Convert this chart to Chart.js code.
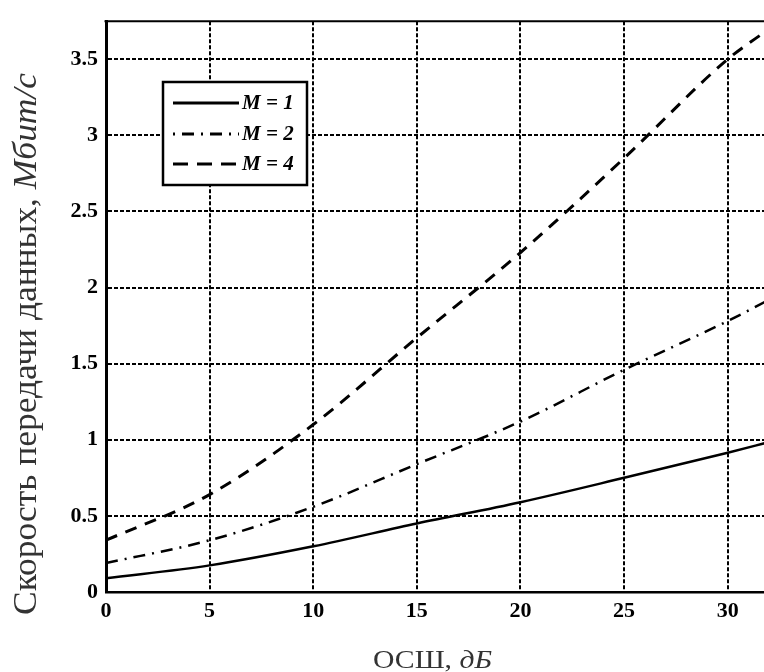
<!DOCTYPE html>
<html>
<head>
<meta charset="utf-8">
<script src="https://cdn.jsdelivr.net/npm/chart.js@4/dist/chart.umd.min.js"></script>
<style>
  html, body { margin: 0; padding: 0; background: #fff; }
  #wrap { width: 764px; height: 672px; }
</style>
</head>
<body>
<div id="wrap"><canvas id="rateChart" width="764" height="672"></canvas></div>
<script>
// ОСШ, дБ
var snr = [0, 5, 10, 15, 20, 25, 30, 32];
// скорость, Мбит/с
var rateM1 = [0.09, 0.175, 0.30, 0.45, 0.59, 0.75, 0.915, 0.985];
var rateM2 = [0.19, 0.34, 0.56, 0.84, 1.12, 1.46, 1.78, 1.92];
var rateM4 = [0.34, 0.64, 1.10, 1.67, 2.23, 2.85, 3.50, 3.70];
var seriesLabels = ['M = 1', 'M = 2', 'M = 4'];
var yTitle = 'Скорость передачи данных, ';
var yTitleUnit = 'Мбит/с';
var xTitle = 'ОСШ, ';
var xTitleUnit = 'дБ';

var serif = "'Liberation Serif', 'DejaVu Serif', serif";

function points(ys) {
    var out = [];
    for (var i = 0; i < snr.length; i++) {
        out.push({x: snr[i], y: ys[i]});
    }
    return out;
}

// подписи осей (обычный + курсив) и рамка сверху
var titlesPlugin = {
    id: 'titles',
    afterDraw: function (chart) {
        var ctx = chart.ctx;
        var area = chart.chartArea;

        ctx.save();
        ctx.strokeStyle = '#000';
        ctx.lineWidth = 2;
        ctx.beginPath();
        ctx.moveTo(area.left - 1.5, area.top);
        ctx.lineTo(area.right, area.top);
        ctx.stroke();
        ctx.restore();

        // y title
        ctx.save();
        ctx.fillStyle = '#333';
        ctx.translate(36, 615);
        ctx.rotate(-Math.PI / 2);
        var fReg = '33px ' + serif;
        var fIt = 'italic 33px ' + serif;
        ctx.font = fReg;
        var w1 = ctx.measureText(yTitle).width;
        ctx.font = fIt;
        var w2 = ctx.measureText(yTitleUnit).width;
        var sx = 542 / (w1 + w2);
        ctx.scale(sx, 1);
        ctx.textBaseline = 'alphabetic';
        ctx.textAlign = 'left';
        ctx.font = fReg;
        ctx.fillText(yTitle, 0, 0);
        ctx.font = fIt;
        ctx.fillText(yTitleUnit, w1, 0);
        ctx.restore();

        // x title
        ctx.save();
        ctx.fillStyle = '#333';
        var gReg = '25px ' + serif;
        var gIt = 'italic 25px ' + serif;
        ctx.font = gReg;
        var v1 = ctx.measureText(xTitle).width;
        ctx.font = gIt;
        var v2 = ctx.measureText(xTitleUnit).width;
        var kx = 119 / (v1 + v2);
        ctx.translate(373, 668);
        ctx.scale(kx, 1);
        ctx.textBaseline = 'alphabetic';
        ctx.textAlign = 'left';
        ctx.font = gReg;
        ctx.fillText(xTitle, 0, 0);
        ctx.font = gIt;
        ctx.fillText(xTitleUnit, v1, 0);
        ctx.restore();
    }
};

// легенда в рамке внутри графика
var boxLegend = {
    id: 'boxLegend',
    afterDatasetsDraw: function (chart) {
        var ctx = chart.ctx;
        var sets = chart.data.datasets;
        var rows = [103, 134, 164];
        var dashes = [[], [2, 7, 12, 7], [15, 9]];
        ctx.save();
        ctx.fillStyle = '#fff';
        ctx.fillRect(163, 82, 144, 103);
        ctx.strokeStyle = '#000';
        ctx.lineWidth = 2.5;
        ctx.strokeRect(163, 82, 144, 103);
        for (var i = 0; i < sets.length; i++) {
            ctx.save();
            ctx.lineWidth = 3;
            ctx.setLineDash(dashes[i]);
            ctx.beginPath();
            ctx.moveTo(173, rows[i]);
            ctx.lineTo(239, rows[i]);
            ctx.stroke();
            ctx.restore();
            ctx.fillStyle = '#000';
            ctx.font = 'italic bold 21px ' + serif;
            ctx.textBaseline = 'middle';
            ctx.fillText(sets[i].label, 242, rows[i] + 1);
        }
        ctx.restore();
    }
};

var ctx = document.getElementById('rateChart');
var rateChart = new Chart(ctx, {
    type: 'scatter',
    data: {
        datasets: [
            {
                label: seriesLabels[0],
                data: points(rateM1),
                showLine: true,
                borderColor: '#000',
                borderWidth: 2.5,
                pointRadius: 0,
                cubicInterpolationMode: 'monotone'
            },
            {
                label: seriesLabels[1],
                data: points(rateM2),
                showLine: true,
                borderColor: '#000',
                borderWidth: 2.5,
                borderDash: [12, 7, 2, 7],
                pointRadius: 0,
                cubicInterpolationMode: 'monotone'
            },
            {
                label: seriesLabels[2],
                data: points(rateM4),
                showLine: true,
                borderColor: '#000',
                borderWidth: 3,
                borderDash: [12, 9],
                pointRadius: 0,
                cubicInterpolationMode: 'monotone'
            }
        ]
    },
    options: {
        responsive: false,
        animation: false,
        layout: { padding: { top: 15, right: 0, left: 0, bottom: 0 } },
        plugins: {
            legend: { display: false },
            tooltip: { enabled: false }
        },
        scales: {
            x: {
                type: 'linear',
                min: 0,
                max: 31.75,
                afterFit: function (s) { s.height = 80; },
                border: { display: true, color: '#000', width: 2.5, dash: [4, 2] },
                grid: { color: '#000', lineWidth: 2, drawTicks: false },
                ticks: {
                    stepSize: 5,
                    includeBounds: false,
                    padding: 6,
                    color: '#000',
                    font: { family: serif, size: 22, weight: 'bold' },
                    maxRotation: 0
                }
            },
            y: {
                min: 0,
                max: 3.75,
                afterFit: function (s) { s.width = 106; },
                border: { display: true, color: '#000', width: 3, dash: [4, 2] },
                grid: { color: '#000', lineWidth: 2, drawTicks: false },
                ticks: {
                    stepSize: 0.5,
                    includeBounds: false,
                    padding: 8,
                    color: '#000',
                    font: { family: serif, size: 22, weight: 'bold' },
                    callback: function (v) { return String(+v.toFixed(2)); }
                }
            }
        }
    },
    plugins: [titlesPlugin, boxLegend]
});
</script>
</body>
</html>
